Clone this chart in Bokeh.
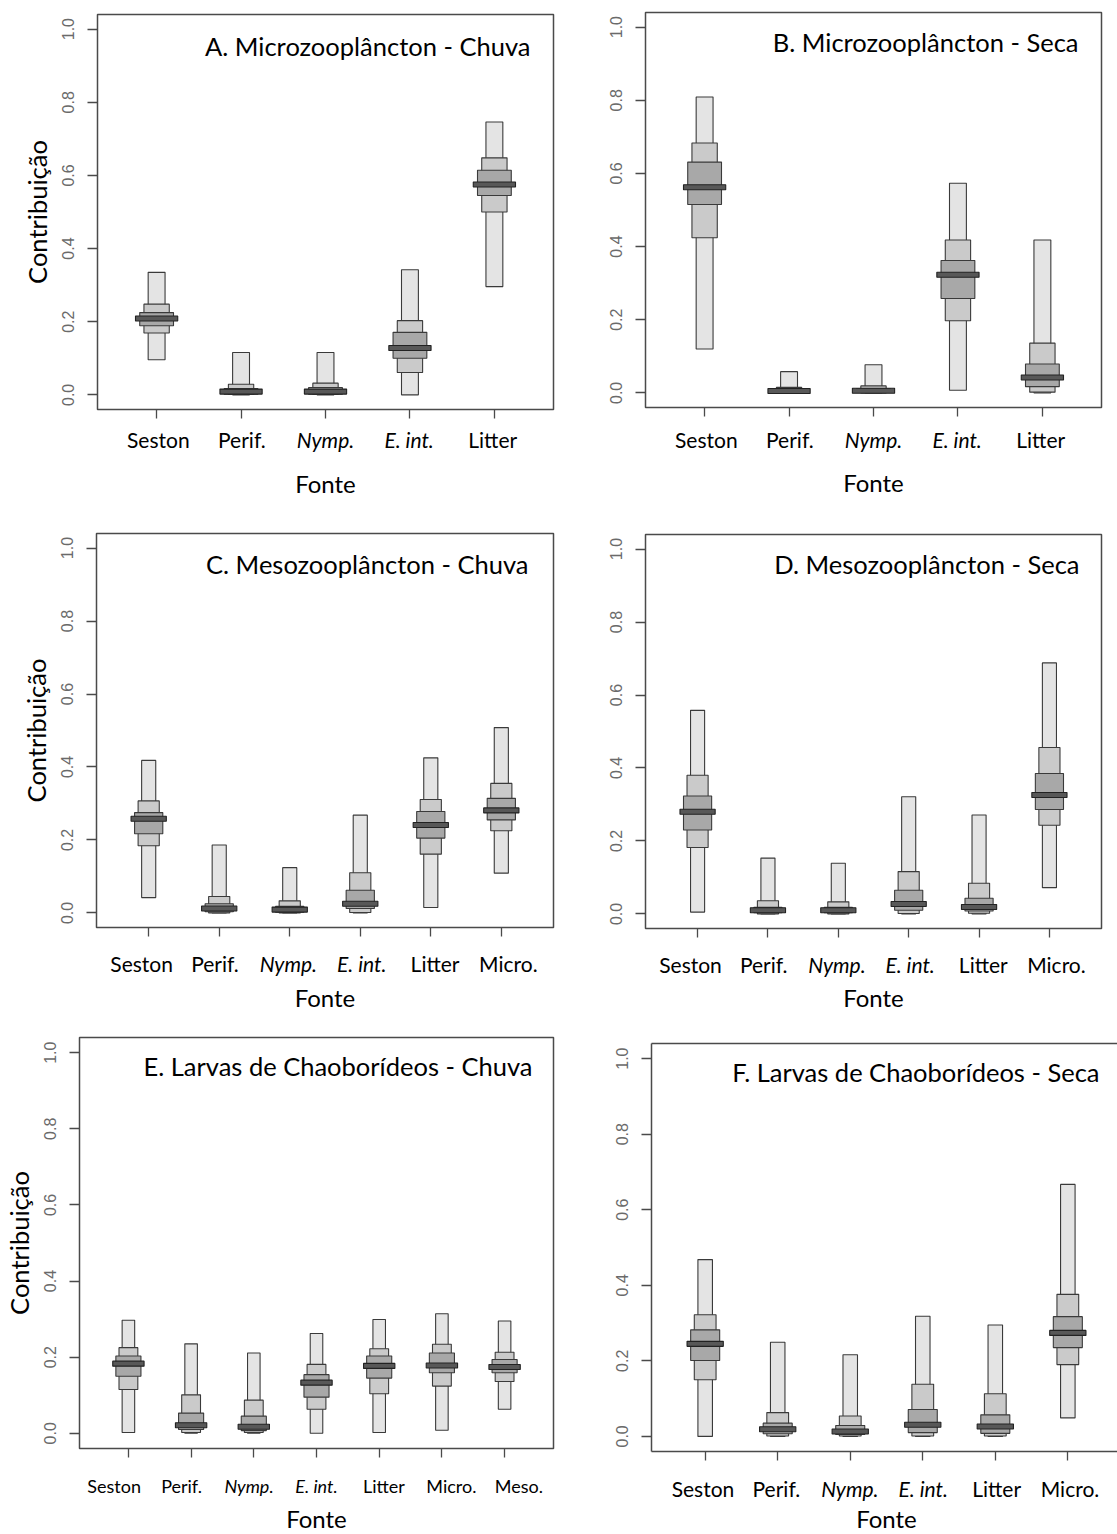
from bokeh.plotting import figure
from bokeh.models import (Range1d, FixedTicker, PrintfTickFormatter, Label,
                          LinearAxis, ColumnDataSource, CustomJSTickFormatter)
from bokeh.core.properties import value, field
from bokeh.layouts import column, row
from bokeh.embed import file_html
from bokeh.resources import INLINE

# ---------------- data (credible intervals) ----------------
src5 = ["Seston", "Perif.", "Nymp.", "E. int.", "Litter"]
src6 = ["Seston", "Perif.", "Nymp.", "E. int.", "Litter", "Micro."]
src7 = ["Seston", "Perif.", "Nymp.", "E. int.", "Litter", "Micro.", "Meso."]
italic_sources = ["Nymp.", "E. int."]
y_ticks = [0.0, 0.2, 0.4, 0.6, 0.8, 1.0]

title_A = "A. Microzooplâncton - Chuva"
A_hi95 = [0.335, 0.116, 0.116, 0.342, 0.746]
A_lo95 = [0.096, 0.000, 0.000, 0.000, 0.296]
A_hi75 = [0.248, 0.029, 0.032, 0.203, 0.648]
A_lo75 = [0.169, 0.001, 0.001, 0.061, 0.500]
A_hi50 = [0.225, 0.017, 0.020, 0.171, 0.614]
A_lo50 = [0.189, 0.002, 0.002, 0.100, 0.545]
A_mode = [0.209, 0.009, 0.009, 0.128, 0.575]

title_B = "B. Microzooplâncton - Seca"
B_hi95 = [0.809, 0.058, 0.077, 0.573, 0.418]
B_lo95 = [0.120, 0.000, 0.000, 0.007, 0.000]
B_hi75 = [0.683, 0.015, 0.019, 0.418, 0.136]
B_lo75 = [0.424, 0.000, 0.000, 0.197, 0.002]
B_hi50 = [0.631, 0.010, 0.012, 0.362, 0.079]
B_lo50 = [0.515, 0.001, 0.001, 0.258, 0.017]
B_mode = [0.562, 0.005, 0.006, 0.323, 0.042]

title_C = "C. Mesozooplâncton - Chuva"
C_hi95 = [0.418, 0.186, 0.124, 0.268, 0.425, 0.508]
C_lo95 = [0.042, 0.000, 0.000, 0.000, 0.015, 0.109]
C_hi75 = [0.307, 0.045, 0.033, 0.110, 0.311, 0.355]
C_lo75 = [0.184, 0.000, 0.000, 0.001, 0.161, 0.225]
C_hi50 = [0.275, 0.025, 0.018, 0.062, 0.278, 0.314]
C_lo50 = [0.217, 0.003, 0.002, 0.012, 0.205, 0.255]
C_mode = [0.258, 0.012, 0.009, 0.025, 0.241, 0.281]

title_D = "D. Mesozooplâncton - Seca"
D_hi95 = [0.558, 0.153, 0.139, 0.321, 0.271, 0.688]
D_lo95 = [0.005, 0.000, 0.000, 0.000, 0.000, 0.072]
D_hi75 = [0.380, 0.036, 0.033, 0.116, 0.084, 0.456]
D_lo75 = [0.182, 0.000, 0.000, 0.001, 0.002, 0.243]
D_hi50 = [0.323, 0.018, 0.018, 0.065, 0.043, 0.385]
D_lo50 = [0.230, 0.003, 0.003, 0.010, 0.008, 0.286]
D_mode = [0.280, 0.010, 0.010, 0.027, 0.019, 0.326]

title_E = "E. Larvas de Chaoborídeos - Chuva"
E_hi95 = [0.297, 0.235, 0.211, 0.262, 0.299, 0.314, 0.295]
E_lo95 = [0.002, 0.000, 0.000, 0.000, 0.002, 0.008, 0.063]
E_hi75 = [0.225, 0.101, 0.087, 0.181, 0.222, 0.234, 0.213]
E_lo75 = [0.115, 0.002, 0.002, 0.063, 0.104, 0.124, 0.136]
E_hi50 = [0.203, 0.053, 0.045, 0.154, 0.203, 0.211, 0.194]
E_lo50 = [0.150, 0.010, 0.007, 0.095, 0.145, 0.159, 0.159]
E_mode = [0.183, 0.021, 0.017, 0.133, 0.177, 0.178, 0.174]

title_F = "F. Larvas de Chaoborídeos - Seca"
F_hi95 = [0.468, 0.249, 0.216, 0.318, 0.295, 0.667]
F_lo95 = [0.000, 0.000, 0.000, 0.000, 0.000, 0.049]
F_hi75 = [0.322, 0.063, 0.054, 0.138, 0.113, 0.376]
F_lo75 = [0.150, 0.001, 0.001, 0.001, 0.001, 0.190]
F_hi50 = [0.282, 0.035, 0.029, 0.071, 0.057, 0.317]
F_lo50 = [0.201, 0.007, 0.005, 0.010, 0.008, 0.235]
F_mode = [0.245, 0.019, 0.013, 0.031, 0.026, 0.274]

# ---------------- styling ----------------
CAL = "Lato"
C95, C75, C50, CMODE = "#e4e4e4", "#cacaca", "#a8a8a8", "#585858"
EDGE = "#3a3a3a"
FRAME = "#4a4a4a"
MAIN_BB = 16   # space under each frame inside the main figure (x ticks)


def make_panel(title, sources, lo95, hi95, lo75, hi75, lo50, hi50, mode, g):
    n = len(sources)
    W, H, bl, br, bt, bb = g["W"], g["H"], g["bl"], g["br"], g["bt"], g["bb"]
    fw, fh = W - bl - br, H - bt - bb
    cut = g.get("cut", 0)
    x0 = 0.5 - 0.04 * n
    ppx = (fw + cut) / (n + 0.08 * n)
    x1 = x0 + fw / ppx
    y0, y1 = -0.04, 1.04
    ppy = fh / (y1 - y0)
    xr = Range1d(x0, x1)

    main_h = bt + fh + MAIN_BB
    p = figure(width=W, height=main_h, output_backend="svg", toolbar_location=None,
               x_range=xr, y_range=Range1d(y0, y1),
               min_border_left=bl, min_border_right=br,
               min_border_top=bt, min_border_bottom=MAIN_BB,
               background_fill_color="white", border_fill_color="white")
    p.xgrid.visible = False
    p.ygrid.visible = False
    p.outline_line_color = FRAME
    p.outline_line_width = 1.5

    xs = list(range(1, n + 1))
    cds = ColumnDataSource(dict(x=xs, lo95=lo95, hi95=hi95, lo75=lo75, hi75=hi75,
                                lo50=lo50, hi50=hi50, mode=mode))
    p.vbar(x="x", width=0.2, bottom="lo95", top="hi95", source=cds,
           fill_color=C95, line_color=EDGE, line_width=1.1)
    p.vbar(x="x", width=0.3, bottom="lo75", top="hi75", source=cds,
           fill_color=C75, line_color=EDGE, line_width=1.1)
    p.vbar(x="x", width=0.4, bottom="lo50", top="hi50", source=cds,
           fill_color=C50, line_color=EDGE, line_width=1.1)
    p.rect(x="x", y="mode", width=0.5, height=5, height_units="screen", source=cds,
           fill_color=CMODE, line_color="#222222", line_width=1.1)

    # y axis (R style, rotated labels)
    ya = p.yaxis[0]
    ya.ticker = FixedTicker(ticks=y_ticks)
    ya.formatter = PrintfTickFormatter(format="%.1f")
    ya.major_label_orientation = "vertical"
    ya.major_tick_out = 10
    ya.major_tick_in = 0
    ya.minor_tick_out = 0
    ya.minor_tick_in = 0
    ya.major_tick_line_color = FRAME
    ya.major_tick_line_width = 1.3
    ya.axis_line_color = None
    ya.major_label_text_font = "Liberation Sans"
    ya.major_label_text_font_size = "16px"
    ya.major_label_text_color = "#6a6a6a"
    ya.major_label_standoff = 13
    if g.get("ylabel"):
        ya.axis_label = "Contribuição"
        ya.axis_label_text_font = CAL
        ya.axis_label_text_font_style = "normal"
        ya.axis_label_text_font_size = "25.5px"
        ya.axis_label_text_color = "black"
        ya.axis_label_standoff = 8

    # x axis: tick marks only; the category names go in the label strip below
    xa = p.xaxis[0]
    xa.ticker = FixedTicker(ticks=xs)
    xa.formatter = CustomJSTickFormatter(code="return ''")
    xa.major_label_text_color = None
    xa.major_label_text_font_size = "0px"
    xa.major_label_standoff = 0
    xa.major_tick_out = 9
    xa.major_tick_in = 0
    xa.minor_tick_out = 0
    xa.major_tick_line_color = FRAME
    xa.major_tick_line_width = 1.3
    xa.axis_line_color = None

    if cut:
        # right edge of the frame is cut off by the page border: three-sided box
        p.outline_line_color = None
        ya.axis_line_color = FRAME
        ya.axis_line_width = 1.5
        xa.axis_line_color = FRAME
        xa.axis_line_width = 1.5
        top = LinearAxis(ticker=FixedTicker(ticks=[]), axis_line_color=FRAME,
                         axis_line_width=1.5, major_tick_out=0, major_label_standoff=0,
                         major_label_text_color=None, major_label_text_font_size="0px",
                         formatter=CustomJSTickFormatter(code="return ''"))
        p.add_layout(top, "above")

    p.add_layout(Label(x=x1 - g["title_dx"] / ppx, y=y1 - g["title_dy"] / ppy,
                       text=title, text_align="right", text_baseline="alphabetic",
                       text_font=CAL, text_font_size="25.5px", text_color="black"))

    # label strip under the frame, sharing the x scale
    strip_h = H - main_h
    s = figure(width=W, height=strip_h, output_backend="svg", toolbar_location=None,
               x_range=xr, y_range=Range1d(-strip_h, 0),
               x_axis_type=None, y_axis_type=None,
               min_border_left=bl, min_border_right=br,
               min_border_top=0, min_border_bottom=0,
               background_fill_color="white", border_fill_color="white")
    s.outline_line_color = None
    s.xgrid.visible = False
    s.ygrid.visible = False
    xc = (n + 1) / 2
    spread = g.get("spread", 1.0)
    lab = ColumnDataSource(dict(
        x=[xc + spread * (i - xc) for i in xs], y=[-(g["tick_dy"] - MAIN_BB)] * n,
        text=sources,
        style=["italic" if t in italic_sources else "normal" for t in sources]))
    s.text(x="x", y="y", text="text", source=lab, text_align="center",
           text_baseline="alphabetic", text_font=value(CAL),
           text_font_size=value(g["tick_fs"]), text_font_style=field("style"),
           text_color="black")
    fon = ColumnDataSource(dict(x=[(x0 + x1 + cut / ppx) / 2], y=[-(g["fonte_dy"] - MAIN_BB)],
                                text=["Fonte"]))
    s.text(x="x", y="y", text="text", source=fon, text_align="center",
           text_baseline="alphabetic", text_font=value(CAL),
           text_font_size=value("24px"), text_color="black")
    return column(p, s)


gA = dict(W=600, H=520, bl=97, br=47, bt=14, bb=111, ylabel=True, spread=0.99,
          tick_dy=30, fonte_dy=74, title_dy=31, title_dx=23, tick_fs="21px")
gB = dict(W=517, H=520, bl=45, br=16, bt=12, bb=113, spread=0.99,
          tick_dy=32, fonte_dy=75, title_dy=29, title_dx=23, tick_fs="21px")
gC = dict(W=600, H=510, bl=96, br=47, bt=13, bb=103, ylabel=True, spread=1.04,
          tick_dy=36, fonte_dy=70, title_dy=30, title_dx=25, tick_fs="21px")
gD = dict(W=517, H=510, bl=45, br=16, bt=14, bb=102, spread=1.04,
          tick_dy=36, fonte_dy=69, title_dy=29, title_dx=22, tick_fs="21px")
gE = dict(W=600, H=504, bl=79, br=47, bt=7, bb=86, ylabel=True, spread=1.076,
          tick_dy=37, fonte_dy=70, title_dy=28, title_dx=21, tick_fs="18px")
gF = dict(W=517, H=504, bl=51, br=0, bt=13, bb=83, cut=4, spread=1.012,
          tick_dy=37, fonte_dy=67, title_dy=28, title_dx=18, tick_fs="21px")

pA = make_panel(title_A, src5, A_lo95, A_hi95, A_lo75, A_hi75, A_lo50, A_hi50, A_mode, gA)
pB = make_panel(title_B, src5, B_lo95, B_hi95, B_lo75, B_hi75, B_lo50, B_hi50, B_mode, gB)
pC = make_panel(title_C, src6, C_lo95, C_hi95, C_lo75, C_hi75, C_lo50, C_hi50, C_mode, gC)
pD = make_panel(title_D, src6, D_lo95, D_hi95, D_lo75, D_hi75, D_lo50, D_hi50, D_mode, gD)
pE = make_panel(title_E, src7, E_lo95, E_hi95, E_lo75, E_hi75, E_lo50, E_hi50, E_mode, gE)
pF = make_panel(title_F, src6, F_lo95, F_hi95, F_lo75, F_hi75, F_lo50, F_hi50, F_mode, gF)

layout = column(row(pA, pB), row(pC, pD), row(pE, pF))
open("out.html", "w").write(file_html(layout, INLINE))
